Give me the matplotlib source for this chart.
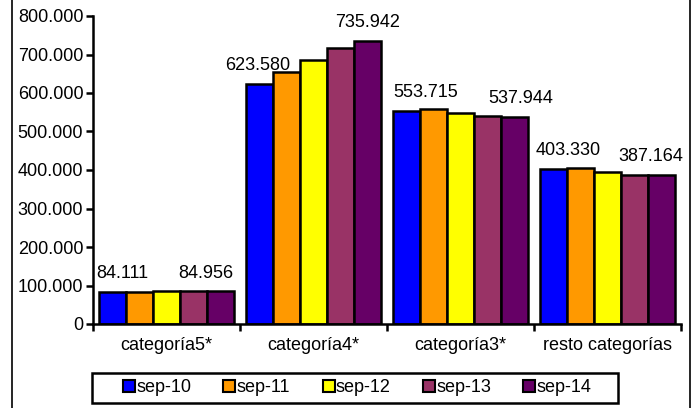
import matplotlib.pyplot as plt
from matplotlib.lines import Line2D
from matplotlib.patches import Rectangle
import numpy as np

plt.rcParams['font.family'] = ['Liberation Sans', 'DejaVu Sans']

categories = ['categoría5*', 'categoría4*', 'categoría3*', 'resto categorías']
series = ['sep-10', 'sep-11', 'sep-12', 'sep-13', 'sep-14']
values = {
    'sep-10': [84111, 623580, 553715, 403330],
    'sep-11': [84300, 654000, 557500, 406000],
    'sep-12': [84500, 686000, 547000, 396000],
    'sep-13': [84700, 716000, 540000, 388000],
    'sep-14': [84956, 735942, 537944, 387164],
}
colors = ['#0000FF', '#FF9900', '#FFFF00', '#993366', '#660066']

# labels shown on first and last series only (x shift in points)
label_shift = {'sep-10': [7, -1, 14, 11], 'sep-14': [-11, 0, 4, -8]}


def fmt(v, pos=None):
    return f'{v:,.0f}'.replace(',', '.')


fig = plt.figure(figsize=(6.97, 4.08), dpi=100)
ax = fig.add_axes([93 / 697, 1 - 324 / 408, (681 - 93) / 697, (324 - 16) / 408])

x = np.arange(len(categories))
w = 0.185
for i, s in enumerate(series):
    xs = x + (i - 2) * w
    ax.bar(xs, values[s], width=w, color=colors[i], edgecolor='black', linewidth=1.8)
    if s in label_shift:
        for j, v in enumerate(values[s]):
            ax.annotate(fmt(v), (xs[j], v), xytext=(label_shift[s][j], 7),
                        textcoords='offset points', ha='center', va='bottom',
                        fontsize=13)

ax.set_xlim(-0.5, len(categories) - 0.5)
ax.set_ylim(0, 800000)
ax.set_yticks(np.arange(0, 800001, 100000))
ax.yaxis.set_major_formatter(plt.FuncFormatter(fmt))
ax.tick_params(axis='y', labelsize=13, width=1.8, length=5, pad=2)

ax.set_xticks(np.arange(-0.5, len(categories)), labels=[])
ax.set_xticks(x, labels=categories, minor=True)
ax.tick_params(axis='x', which='major', width=1.8, length=5)
ax.tick_params(axis='x', which='minor', length=0, labelsize=13, pad=9)

for sp in ['top', 'right']:
    ax.spines[sp].set_visible(False)
for sp in ['left', 'bottom']:
    ax.spines[sp].set_linewidth(1.8)

# legend entries without frame, box drawn separately
handles = [Line2D([], [], marker='s', linestyle='', markersize=8,
                  markerfacecolor=c, markeredgecolor='black', markeredgewidth=1.5)
           for c in colors]
fig.legend(handles, series, loc='center', ncol=5, mode='expand',
           bbox_to_anchor=(123.5 / 697, 1 - 403 / 408, 468 / 697, 30 / 408),
           borderaxespad=0, borderpad=0, fontsize=13, frameon=False,
           handlelength=0.6, handletextpad=0.1, columnspacing=1.0)
fig.patches.append(Rectangle((92 / 697, 1 - 403 / 408), 526 / 697, 30 / 408,
                             transform=fig.transFigure, fill=False,
                             edgecolor='black', linewidth=1.8))

fig.patches.append(Rectangle((12 / 697, -0.01), (690 - 12) / 697, 1.02,
                             transform=fig.transFigure, fill=False,
                             edgecolor='black', linewidth=1.2))

fig.savefig('out.png', dpi=100)
